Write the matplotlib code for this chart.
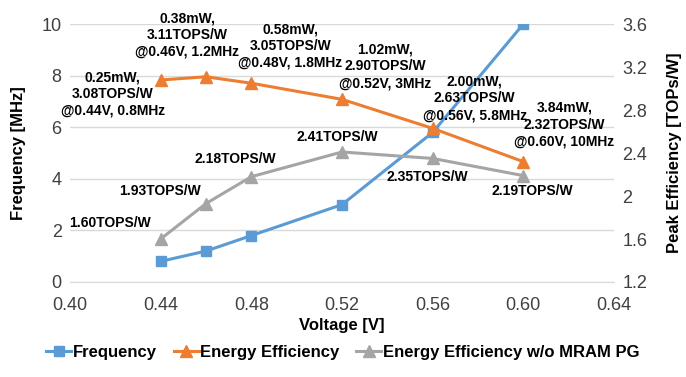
import matplotlib.pyplot as plt
import matplotlib as mpl
from matplotlib.ticker import FuncFormatter

mpl.rcParams['font.family'] = ['Liberation Sans', 'DejaVu Sans']

# data
voltage = [0.44, 0.46, 0.48, 0.52, 0.56, 0.60]
frequency = [0.8, 1.2, 1.8, 3.0, 5.8, 10.0]
efficiency = [3.08, 3.11, 3.05, 2.90, 2.63, 2.32]
efficiency_no_pg = [1.60, 1.93, 2.18, 2.41, 2.35, 2.19]
power = ['0.25mW', '0.38mW', '0.58mW', '1.02mW', '2.00mW', '3.84mW']
freq_text = ['0.8MHz', '1.2MHz', '1.8MHz', '3MHz', '5.8MHz', '10MHz']

# label offsets in pixels (dx right, dy down) from each marker
eff_offsets = [(-48, 14), (-19, -42), (39, -37), (43, -33), (42, -30), (41, -37)]
nopg_offsets = [(-51, -16), (-46, -13), (-16, -18), (-5, -15), (-5, 19), (9, 15)]

blue = '#5B9BD5'
orange = '#ED7D31'
gray = '#A5A5A5'

fig = plt.figure(figsize=(6.86, 3.77), dpi=100)
ax = fig.add_axes([0.102, 0.252, 0.793, 0.684])
ax2 = ax.twinx()

l1, = ax.plot(voltage, frequency, color=blue, lw=2.2, marker='s', ms=7, label='Frequency')
l3, = ax2.plot(voltage, efficiency_no_pg, color=gray, lw=2.2, marker='^', ms=8,
               label='Energy Efficiency w/o MRAM PG')
l2, = ax2.plot(voltage, efficiency, color=orange, lw=2.2, marker='^', ms=8,
               label='Energy Efficiency')

ax.set_xlim(0.40, 0.64)
ax.set_xticks([0.40, 0.44, 0.48, 0.52, 0.56, 0.60, 0.64])
ax.xaxis.set_major_formatter(FuncFormatter(lambda v, p: '%.2f' % v))
ax.set_ylim(0, 10)
ax.set_yticks([0, 2, 4, 6, 8, 10])
ax2.set_ylim(1.2, 3.6)
ax2.set_yticks([1.2, 1.6, 2.0, 2.4, 2.8, 3.2, 3.6])
ax2.yaxis.set_major_formatter(FuncFormatter(lambda v, p: '%g' % round(v, 1)))

ax.yaxis.grid(True, color='#D9D9D9', lw=1)
ax.set_axisbelow(True)
for a in (ax, ax2):
    for s in a.spines.values():
        s.set_visible(False)
    a.tick_params(length=0, labelsize=13, colors='#404040', pad=6)
ax.tick_params(axis='x', pad=11)
ax.spines['bottom'].set_visible(True)
ax.spines['bottom'].set_color('#D9D9D9')

ax.set_xlabel('Voltage [V]', fontsize=12, fontweight='bold', labelpad=3)
ax.set_ylabel('Frequency [MHz]', fontsize=12, fontweight='bold', labelpad=11)
ax2.set_ylabel('Peak Efficiency [TOPs/W]', fontsize=12, fontweight='bold', labelpad=14)

k = 0.72  # px -> pt
for i in range(len(voltage)):
    txt = '%s,\n%.2fTOPS/W\n@%.2fV, %s' % (power[i], efficiency[i], voltage[i], freq_text[i])
    dx, dy = eff_offsets[i]
    ax2.annotate(txt, (voltage[i], efficiency[i]), xytext=(dx * k, -dy * k),
                 textcoords='offset points', ha='center', va='center',
                 fontsize=10, fontweight='bold', linespacing=1.25)
    dx, dy = nopg_offsets[i]
    ax2.annotate('%.2fTOPS/W' % efficiency_no_pg[i], (voltage[i], efficiency_no_pg[i]),
                 xytext=(dx * k, -dy * k), textcoords='offset points',
                 ha='center', va='center', fontsize=10, fontweight='bold')

leg = fig.legend(handles=[l1, l2, l3], loc='center', bbox_to_anchor=(0.5, 0.066),
                 ncol=3, frameon=False, fontsize=12, handlelength=1.5,
                 handletextpad=0.1, columnspacing=1.0)
for t in leg.get_texts():
    t.set_fontweight('bold')

fig.savefig('out.png', dpi=100)
